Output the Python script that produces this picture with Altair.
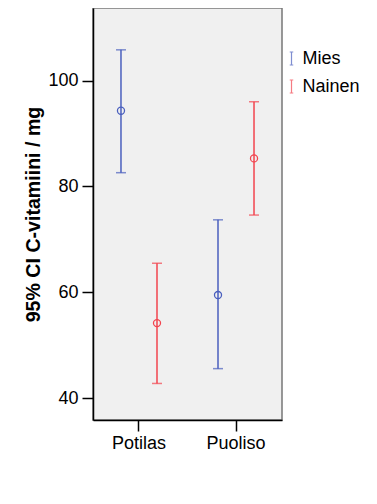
import altair as alt
import pandas as pd

groups = ["Potilas", "Potilas", "Puoliso", "Puoliso"]
sexes = ["Mies", "Nainen", "Mies", "Nainen"]
means = [94.3, 54.2, 59.5, 85.3]
lowers = [82.6, 42.8, 45.6, 74.6]
uppers = [105.8, 65.5, 73.7, 96.0]

df = pd.DataFrame({"group": groups, "sex": sexes, "mean": means,
                   "lower": lowers, "upper": uppers})

BLUE = "#4A5FBE"
RED = "#F2444E"
FONT = "Liberation Sans"

xenc = alt.X("group:N",
             scale=alt.Scale(paddingInner=0.5, paddingOuter=0.224),
             axis=alt.Axis(title=None, labelAngle=0, tickSize=11,
                           labelPadding=3, labelFontSize=18,
                           domainColor="black", tickColor="black",
                           labelColor="black"))
xoff = alt.XOffset("sex:N", scale=alt.Scale(paddingInner=0.653, paddingOuter=0))
yscale = alt.Scale(domain=[35.9, 113.7], nice=False, zero=False)
color = alt.Color("sex:N",
                  scale=alt.Scale(domain=["Mies", "Nainen"], range=[BLUE, RED]),
                  legend=alt.Legend(title=None, orient="none", legendX=189.5,
                                    legendY=41.5, labelFontSize=18,
                                    labelColor="black", labelOffset=2,
                                    symbolType="M-0.27,-1H0.27M0,-1V1M-0.27,1H0.27",
                                    symbolSize=169, symbolStrokeWidth=1.2,
                                    symbolFillColor="transparent",
                                    rowPadding=10, padding=0))

base = alt.Chart(df)

rule = base.mark_rule(strokeWidth=1.5).encode(
    x=xenc, xOffset=xoff,
    y=alt.Y("lower:Q", scale=yscale,
            axis=alt.Axis(title="95% CI C-vitamiini / mg", values=[40, 60, 80, 100],
                          grid=False, tickSize=11, labelPadding=4,
                          labelFontSize=18, titleFontSize=19.6,
                          titleFontWeight="bold", titlePadding=4,
                          domainColor="black", tickColor="black",
                          labelColor="black", titleColor="black")),
    y2="upper:Q",
    color=color,
)
cap_low = base.mark_tick(size=10, thickness=1.5, orient="horizontal").encode(
    x=xenc, xOffset=xoff, y=alt.Y("lower:Q", scale=yscale), color=color)
cap_up = base.mark_tick(size=10, thickness=1.5, orient="horizontal").encode(
    x=xenc, xOffset=xoff, y=alt.Y("upper:Q", scale=yscale), color=color)
pts = base.mark_point(filled=False, size=50, strokeWidth=1.3, opacity=1).encode(
    x=xenc, xOffset=xoff, y=alt.Y("mean:Q", scale=yscale), color=color)

chart = alt.layer(rule, cap_low, cap_up, pts).properties(
    width=189, height=412,
    autosize=alt.AutoSizeParams(type="none"),
    padding={"left": 85, "top": 0, "right": 80, "bottom": 55},
).configure(font=FONT).configure_view(
    fill="#F0F0F0", stroke="#777777", strokeWidth=1.5
).configure_axis(domainWidth=1.5, tickWidth=1.5)

chart.save("out.html", embed_options={"renderer": "svg", "actions": False})
